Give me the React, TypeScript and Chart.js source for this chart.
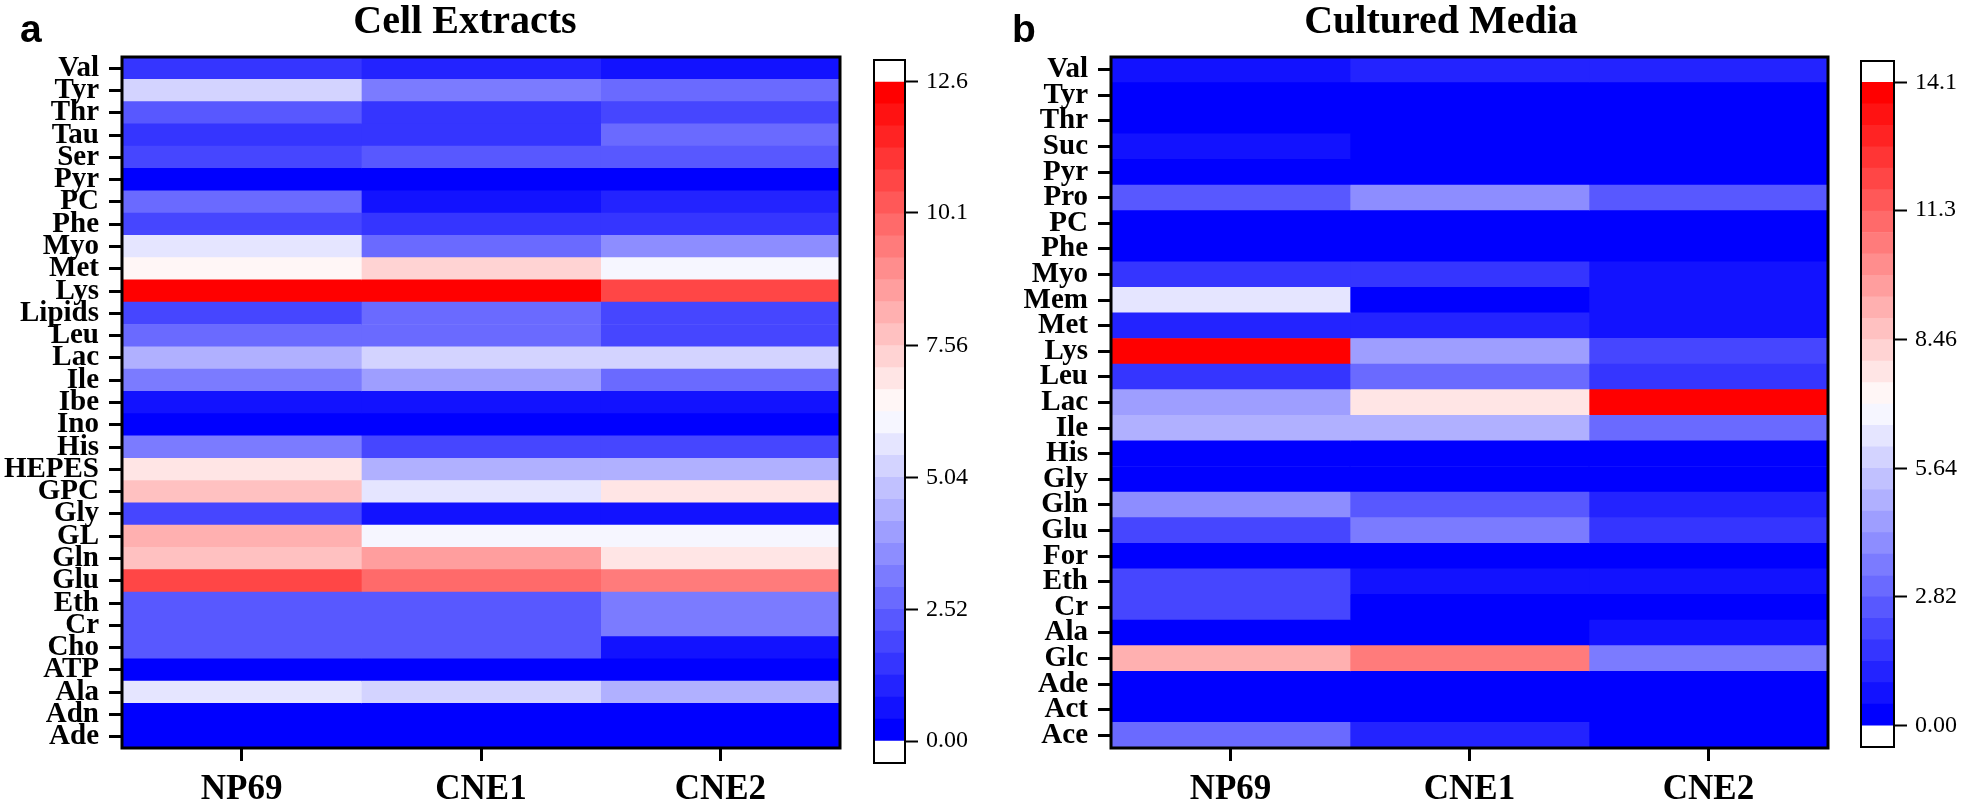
import React, { useEffect, useRef } from "react";
import { Chart, registerables } from "chart.js";
Chart.register(...registerables);

// ---------------- DATA ----------------
const columns = ["NP69", "CNE1", "CNE2"];

const rowsA = ["Val", "Tyr", "Thr", "Tau", "Ser", "Pyr", "PC", "Phe", "Myo", "Met", "Lys", "Lipids", "Leu", "Lac", "Ile", "Ibe", "Ino", "His", "HEPES", "GPC", "Gly", "GL", "Gln", "Glu", "Eth", "Cr", "Cho", "ATP", "Ala", "Adn", "Ade"];
const np69A = [1.47, 5.25, 2.31, 1.47, 1.89, 0.1, 2.73, 1.89, 5.67, 6.51, 12.39, 1.89, 2.73, 4.41, 3.15, 0.63, 0.1, 3.15, 6.93, 7.77, 1.89, 8.19, 7.77, 10.71, 2.4, 2.31, 2.31, 0.1, 5.67, 0.1, 0.1];
const cne1A = [1.05, 3.15, 1.47, 1.47, 2.31, 0.1, 0.63, 1.47, 2.73, 7.35, 12.39, 2.73, 2.73, 5.25, 3.99, 0.63, 0.1, 1.89, 4.41, 5.67, 0.63, 6.09, 8.61, 9.87, 2.31, 2.31, 2.31, 0.1, 5.25, 0.1, 0.1];
const cne2A = [0.63, 2.73, 1.89, 2.73, 2.31, 0.1, 1.05, 1.47, 3.57, 6.09, 10.71, 1.89, 1.89, 5.25, 2.73, 0.63, 0.1, 1.89, 4.41, 6.93, 0.63, 6.09, 6.93, 9.45, 3.15, 3.15, 0.63, 0.1, 4.41, 0.1, 0.1];
const maxA = 12.6;
const tickValsA = [0, 2.52, 5.04, 7.56, 10.1, 12.6];
const tickLabelsA = ["0.00", "2.52", "5.04", "7.56", "10.1", "12.6"];

const rowsB = ["Val", "Tyr", "Thr", "Suc", "Pyr", "Pro", "PC", "Phe", "Myo", "Mem", "Met", "Lys", "Leu", "Lac", "Ile", "His", "Gly", "Gln", "Glu", "For", "Eth", "Cr", "Ala", "Glc", "Ade", "Act", "Ace"];
const np69B = [0.705, 0.1, 0.1, 0.705, 0.1, 2.585, 0.1, 0.1, 1.645, 6.345, 1.175, 13.9, 1.645, 4.465, 4.935, 0.1, 0.1, 3.995, 2.115, 0.1, 2.115, 2.115, 0.1, 9.165, 0.1, 0.1, 3.055];
const cne1B = [1.175, 0.1, 0.1, 0.1, 0.1, 3.995, 0.1, 0.1, 1.645, 0.1, 1.175, 4.465, 3.055, 7.755, 4.935, 0.1, 0.1, 2.585, 3.525, 0.1, 0.705, 0.1, 0.1, 10.575, 0.1, 0.1, 1.175];
const cne2B = [1.175, 0.1, 0.1, 0.1, 0.1, 2.4, 0.1, 0.1, 0.705, 0.705, 0.705, 2.115, 1.645, 13.9, 3.055, 0.1, 0.1, 1.175, 1.645, 0.1, 0.705, 0.1, 0.705, 3.525, 0.1, 0.1, 0.1];
const maxB = 14.1;
const tickValsB = [0, 2.82, 5.64, 8.46, 11.3, 14.1];
const tickLabelsB = ["0.00", "2.82", "5.64", "8.46", "11.3", "14.1"];

const LEVELS = 30;

// ---------------- HELPERS ----------------
const SERIF = '"Liberation Serif", "Times New Roman", Times, serif';
const SANS = '"Liberation Sans", Arial, Helvetica, sans-serif';

function levelColor(k: number): string {
  const t = k / (LEVELS - 1);
  if (t <= 0.5) {
    const c = Math.round(510 * t);
    return `rgb(${c},${c},255)`;
  }
  const c = Math.round(510 * (1 - t));
  return `rgb(255,${c},${c})`;
}
function colorFor(v: number, max: number): string {
  const k = Math.max(0, Math.min(LEVELS - 1, Math.floor((v / max) * LEVELS)));
  return levelColor(k);
}

const framePlugin = (lw: number) => ({
  id: "frame",
  afterDatasetsDraw(chart: any) {
    const { ctx, chartArea: a } = chart;
    ctx.save();
    ctx.strokeStyle = "#000";
    ctx.lineWidth = lw;
    ctx.strokeRect(a.left, a.top, a.right - a.left, a.bottom - a.top);
    ctx.restore();
  },
});

type HeatProps = {
  left: number;
  width: number;
  rows: string[];
  series: number[][];
  max: number;
  yAxisWidth: number;
  padRight: number;
  title: string;
  titleX: number;
  letter: string;
  letterX: number;
};

function Heatmap(p: HeatProps) {
  const ref = useRef<HTMLCanvasElement>(null);
  useEffect(() => {
    if (!ref.current) return;
    const textPlugin = {
      id: "panelText",
      afterDraw(chart: any) {
        const ctx = chart.ctx;
        ctx.save();
        ctx.fillStyle = "#000";
        ctx.textBaseline = "alphabetic";
        ctx.textAlign = "center";
        ctx.font = `bold 40px ${SERIF}`;
        ctx.fillText(p.title, p.titleX, 33);
        ctx.textAlign = "left";
        ctx.font = `bold 39px ${SANS}`;
        ctx.fillText(p.letter, p.letterX, 42);
        ctx.restore();
      },
    };
    const chart = new Chart(ref.current, {
      type: "bar",
      data: {
        labels: p.rows,
        datasets: p.series.map((vals, ci) => ({
          data: vals.map(() => [ci, ci + 1]),
          backgroundColor: vals.map((v) => colorFor(v, p.max)),
          borderWidth: 0,
          barPercentage: 1,
          categoryPercentage: 1,
          grouped: false,
        })),
      } as any,
      options: {
        indexAxis: "y",
        responsive: false,
        animation: false,
        events: [],
        layout: { autoPadding: false, padding: { left: 0, top: 57, right: p.padRight, bottom: 0 } },
        plugins: { legend: { display: false }, tooltip: { enabled: false }, title: { display: false } },
        scales: {
          y: {
            type: "category",
            position: "left",
            offset: true,
            grid: { drawOnChartArea: false, drawTicks: true, tickLength: 13, tickWidth: 3, tickColor: "#000", offset: false },
            border: { display: false },
            ticks: { color: "#000", font: { family: SERIF, size: 29, weight: "bold" }, padding: 10, autoSkip: false },
            afterFit: (s: any) => {
              s.width = p.yAxisWidth;
            },
          },
          x: {
            type: "linear",
            position: "bottom",
            min: 0,
            max: columns.length,
            afterBuildTicks: (s: any) => {
              s.ticks = columns.map((_, i) => ({ value: i + 0.5 }));
            },
            grid: { drawOnChartArea: false, drawTicks: true, tickLength: 13, tickWidth: 3, tickColor: "#000" },
            border: { display: false },
            ticks: {
              color: "#000",
              font: { family: SERIF, size: 35, weight: "bold" },
              padding: 8,
              autoSkip: false,
              maxRotation: 0,
              callback: (_v: any, i: number) => columns[i],
            },
            afterFit: (s: any) => {
              s.height = 54;
            },
          },
        },
      } as any,
      plugins: [framePlugin(3), textPlugin],
    });
    return () => chart.destroy();
  }, []);
  return (
    <canvas
      ref={ref}
      width={p.width}
      height={802}
      style={{ position: "absolute", left: p.left, top: 0 }}
    />
  );
}

type BarProps = {
  left: number;
  width: number;
  padLeft: number;
  axisWidth: number;
  padTop: number;
  padBottom: number;
  max: number;
  tickVals: number[];
  tickLabels: string[];
};

function ColorBar(p: BarProps) {
  const ref = useRef<HTMLCanvasElement>(null);
  useEffect(() => {
    if (!ref.current) return;
    const step = p.max / LEVELS;
    const bands = Array.from({ length: LEVELS }, (_, k) => ({ lo: k * step, hi: (k + 1) * step, color: levelColor(k) }));
    const chart = new Chart(ref.current, {
      type: "bar",
      data: {
        labels: [""],
        datasets: bands.map((b) => ({
          data: [[b.lo, b.hi]],
          backgroundColor: b.color,
          borderWidth: 0,
          barPercentage: 1,
          categoryPercentage: 1,
          grouped: false,
        })),
      } as any,
      options: {
        responsive: false,
        animation: false,
        events: [],
        layout: { autoPadding: false, padding: { left: p.padLeft, top: p.padTop, right: 0, bottom: p.padBottom } },
        plugins: { legend: { display: false }, tooltip: { enabled: false } },
        scales: {
          x: { display: false },
          y: {
            type: "linear",
            position: "right",
            min: -step,
            max: p.max + step,
            afterBuildTicks: (s: any) => {
              s.ticks = p.tickVals.map((v) => ({ value: v }));
            },
            grid: { drawOnChartArea: false, drawTicks: true, tickLength: 13, tickWidth: 2, tickColor: "#000" },
            border: { display: false },
            ticks: {
              color: "#000",
              font: { family: SERIF, size: 24 },
              padding: 8,
              autoSkip: false,
              callback: (_v: any, i: number) => p.tickLabels[i],
            },
            afterFit: (s: any) => {
              s.width = p.axisWidth;
            },
          },
        },
      } as any,
      plugins: [framePlugin(2)],
    });
    return () => chart.destroy();
  }, []);
  return (
    <canvas
      ref={ref}
      width={p.width}
      height={802}
      style={{ position: "absolute", left: p.left, top: 0 }}
    />
  );
}

export default function App() {
  return (
    <div
      style={{
        position: "fixed",
        left: 0,
        top: 0,
        width: 1961,
        height: 802,
        background: "#fff",
        overflow: "hidden",
      }}
    >
      <Heatmap
        left={0}
        width={860}
        rows={rowsA}
        series={[np69A, cne1A, cne2A]}
        max={maxA}
        yAxisWidth={122}
        padRight={20}
        title="Cell Extracts"
        titleX={465}
        letter="a"
        letterX={20}
      />
      <ColorBar
        left={860}
        width={120}
        padLeft={14}
        axisWidth={75}
        padTop={60}
        padBottom={39}
        max={maxA}
        tickVals={tickValsA}
        tickLabels={tickLabelsA}
      />
      <Heatmap
        left={980}
        width={860}
        rows={rowsB}
        series={[np69B, cne1B, cne2B]}
        max={maxB}
        yAxisWidth={131}
        padRight={12}
        title="Cultured Media"
        titleX={461}
        letter="b"
        letterX={32}
      />
      <ColorBar
        left={1848}
        width={113}
        padLeft={13}
        axisWidth={67}
        padTop={61}
        padBottom={55}
        max={maxB}
        tickVals={tickValsB}
        tickLabels={tickLabelsB}
      />
    </div>
  );
}
